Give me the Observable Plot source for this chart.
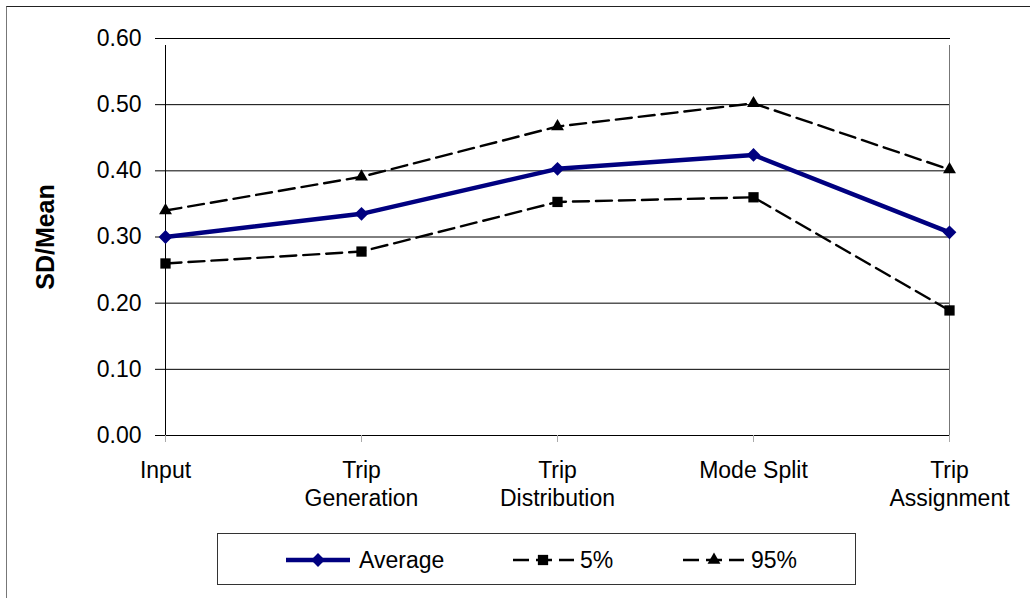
<!DOCTYPE html>
<html>
<head>
<meta charset="utf-8">
<script src="https://cdn.jsdelivr.net/npm/d3@7"></script>
<script src="https://cdn.jsdelivr.net/npm/@observablehq/plot@0.6"></script>
<style>
  html, body { margin: 0; padding: 0; background: #fff; overflow: hidden; }
  body { width: 1030px; height: 598px; position: relative; font-family: "Liberation Sans", Arial, sans-serif; }
  #frame { position: absolute; left: 6px; top: 6px; width: 1100px; height: 700px; border-left: 1px solid #777; border-top: 1px solid #222; }
  #chart { position: absolute; left: 0; top: 0; }
  #legend { position: absolute; left: 217px; top: 533px; width: 639px; height: 52px; border: 1px solid #333; box-sizing: border-box; background: #fff; }
  #legend svg { position: absolute; left: 0; top: 0; }
</style>
</head>
<body>
<div id="frame"></div>
<div id="chart"></div>
<div id="legend"></div>
<script>
const categories = ["Input", "Trip Generation", "Trip Distribution", "Mode Split", "Trip Assignment"];
const tickLabels = ["Input", "Trip\nGeneration", "Trip\nDistribution", "Mode Split", "Trip\nAssignment"];
const average = [0.30, 0.335, 0.403, 0.424, 0.307];
const p5 = [0.26, 0.278, 0.353, 0.36, 0.189];
const p95 = [0.34, 0.391, 0.467, 0.502, 0.402];
const yTicks = [0, 0.1, 0.2, 0.3, 0.4, 0.5, 0.6];
const seriesNames = ["Average", "5%", "95%"];

const toRows = (vals) => categories.map((c, i) => ({cat: c, v: vals[i]}));
const avgRows = toRows(average), p5Rows = toRows(p5), p95Rows = toRows(p95);

const H = 520;
const plot = Plot.plot({
  width: 1030,
  height: H,
  marginLeft: 163,
  marginRight: 80,
  marginTop: 38,
  marginBottom: H - 435,
  style: {fontFamily: "'Liberation Sans', Arial, sans-serif", fontSize: "23px", color: "#000", background: "transparent"},
  x: {type: "point", domain: categories, padding: 0},
  y: {domain: [0, 0.6]},
  marks: [
    Plot.ruleY(yTicks, {stroke: "#000", strokeWidth: 1}),
    Plot.ruleX(["Trip Assignment"], {y1: 0, y2: 0.6, stroke: "#777", insetBottom: -7}),
    Plot.axisX({ticks: categories, tickFormat: (d) => tickLabels[categories.indexOf(d)], tickSize: 7, stroke: "#aaa", tickPadding: 16, lineHeight: 1.22, fill: "#000", label: null, textStroke: "none"}),
    Plot.ruleX(["Input"], {y1: 0, y2: 0.6, stroke: "#000", insetBottom: -7}),
    Plot.axisY({ticks: yTicks, tickFormat: (d) => d.toFixed(2), tickSize: 8, tickPadding: 14, label: null, stroke: "#000"}),
    Plot.text(["SD/Mean"], {frameAnchor: "left", textAnchor: "middle", dx: -118, rotate: -90, fontWeight: "bold", fontSize: 25}),
    Plot.line(p5Rows, {x: "cat", y: "v", stroke: "#000", strokeWidth: 2.4, strokeDasharray: "16,7"}),
    Plot.line(p95Rows, {x: "cat", y: "v", stroke: "#000", strokeWidth: 2.4, strokeDasharray: "16,7"}),
    Plot.line(avgRows, {x: "cat", y: "v", stroke: "#000080", strokeWidth: 4.5}),
    Plot.dot(p5Rows, {x: "cat", y: "v", symbol: "square", r: 5.8, fill: "#000", stroke: "none"}),
    Plot.dot(p95Rows, {x: "cat", y: "v", symbol: "triangle", r: 4.8, fill: "#000", stroke: "none"}),
    Plot.dot(avgRows, {x: "cat", y: "v", symbol: "diamond2", r: 6.2, fill: "#000080", stroke: "none"})
  ]
});
document.getElementById("chart").appendChild(plot);

// Legend
const lg = d3.select("#legend").append("svg").attr("width", 639).attr("height", 52);
const ox = 217, oy = 533;
const ly = 559 - oy;
const items = [
  {name: seriesNames[0], x1: 285, x2: 349, mx: 317, tx: 358, color: "#000080", w: 4.5, dash: null, sym: d3.symbolDiamond2, size: Math.PI * 6.2 * 6.2},
  {name: seriesNames[1], x1: 512, x2: 573, mx: 542, tx: 579, color: "#000", w: 2.4, dash: "16,7", sym: d3.symbolSquare, size: Math.PI * 5.8 * 5.8},
  {name: seriesNames[2], x1: 682, x2: 743, mx: 713, tx: 750, color: "#000", w: 2.4, dash: "16,7", sym: d3.symbolTriangle, size: Math.PI * 4.8 * 4.8}
];
for (const it of items) {
  const ln = lg.append("line").attr("x1", it.x1 - ox).attr("x2", it.x2 - ox).attr("y1", ly).attr("y2", ly)
    .attr("stroke", it.color).attr("stroke-width", it.w);
  if (it.dash) ln.attr("stroke-dasharray", it.dash);
  lg.append("path").attr("d", d3.symbol(it.sym, it.size)()).attr("transform", `translate(${it.mx - ox},${ly})`).attr("fill", it.color);
  lg.append("text").attr("x", it.tx - ox).attr("y", ly).attr("dy", "0.35em")
    .attr("font-family", "'Liberation Sans', Arial, sans-serif").attr("font-size", 23).attr("fill", "#000").text(it.name);
}
</script>
</body>
</html>
